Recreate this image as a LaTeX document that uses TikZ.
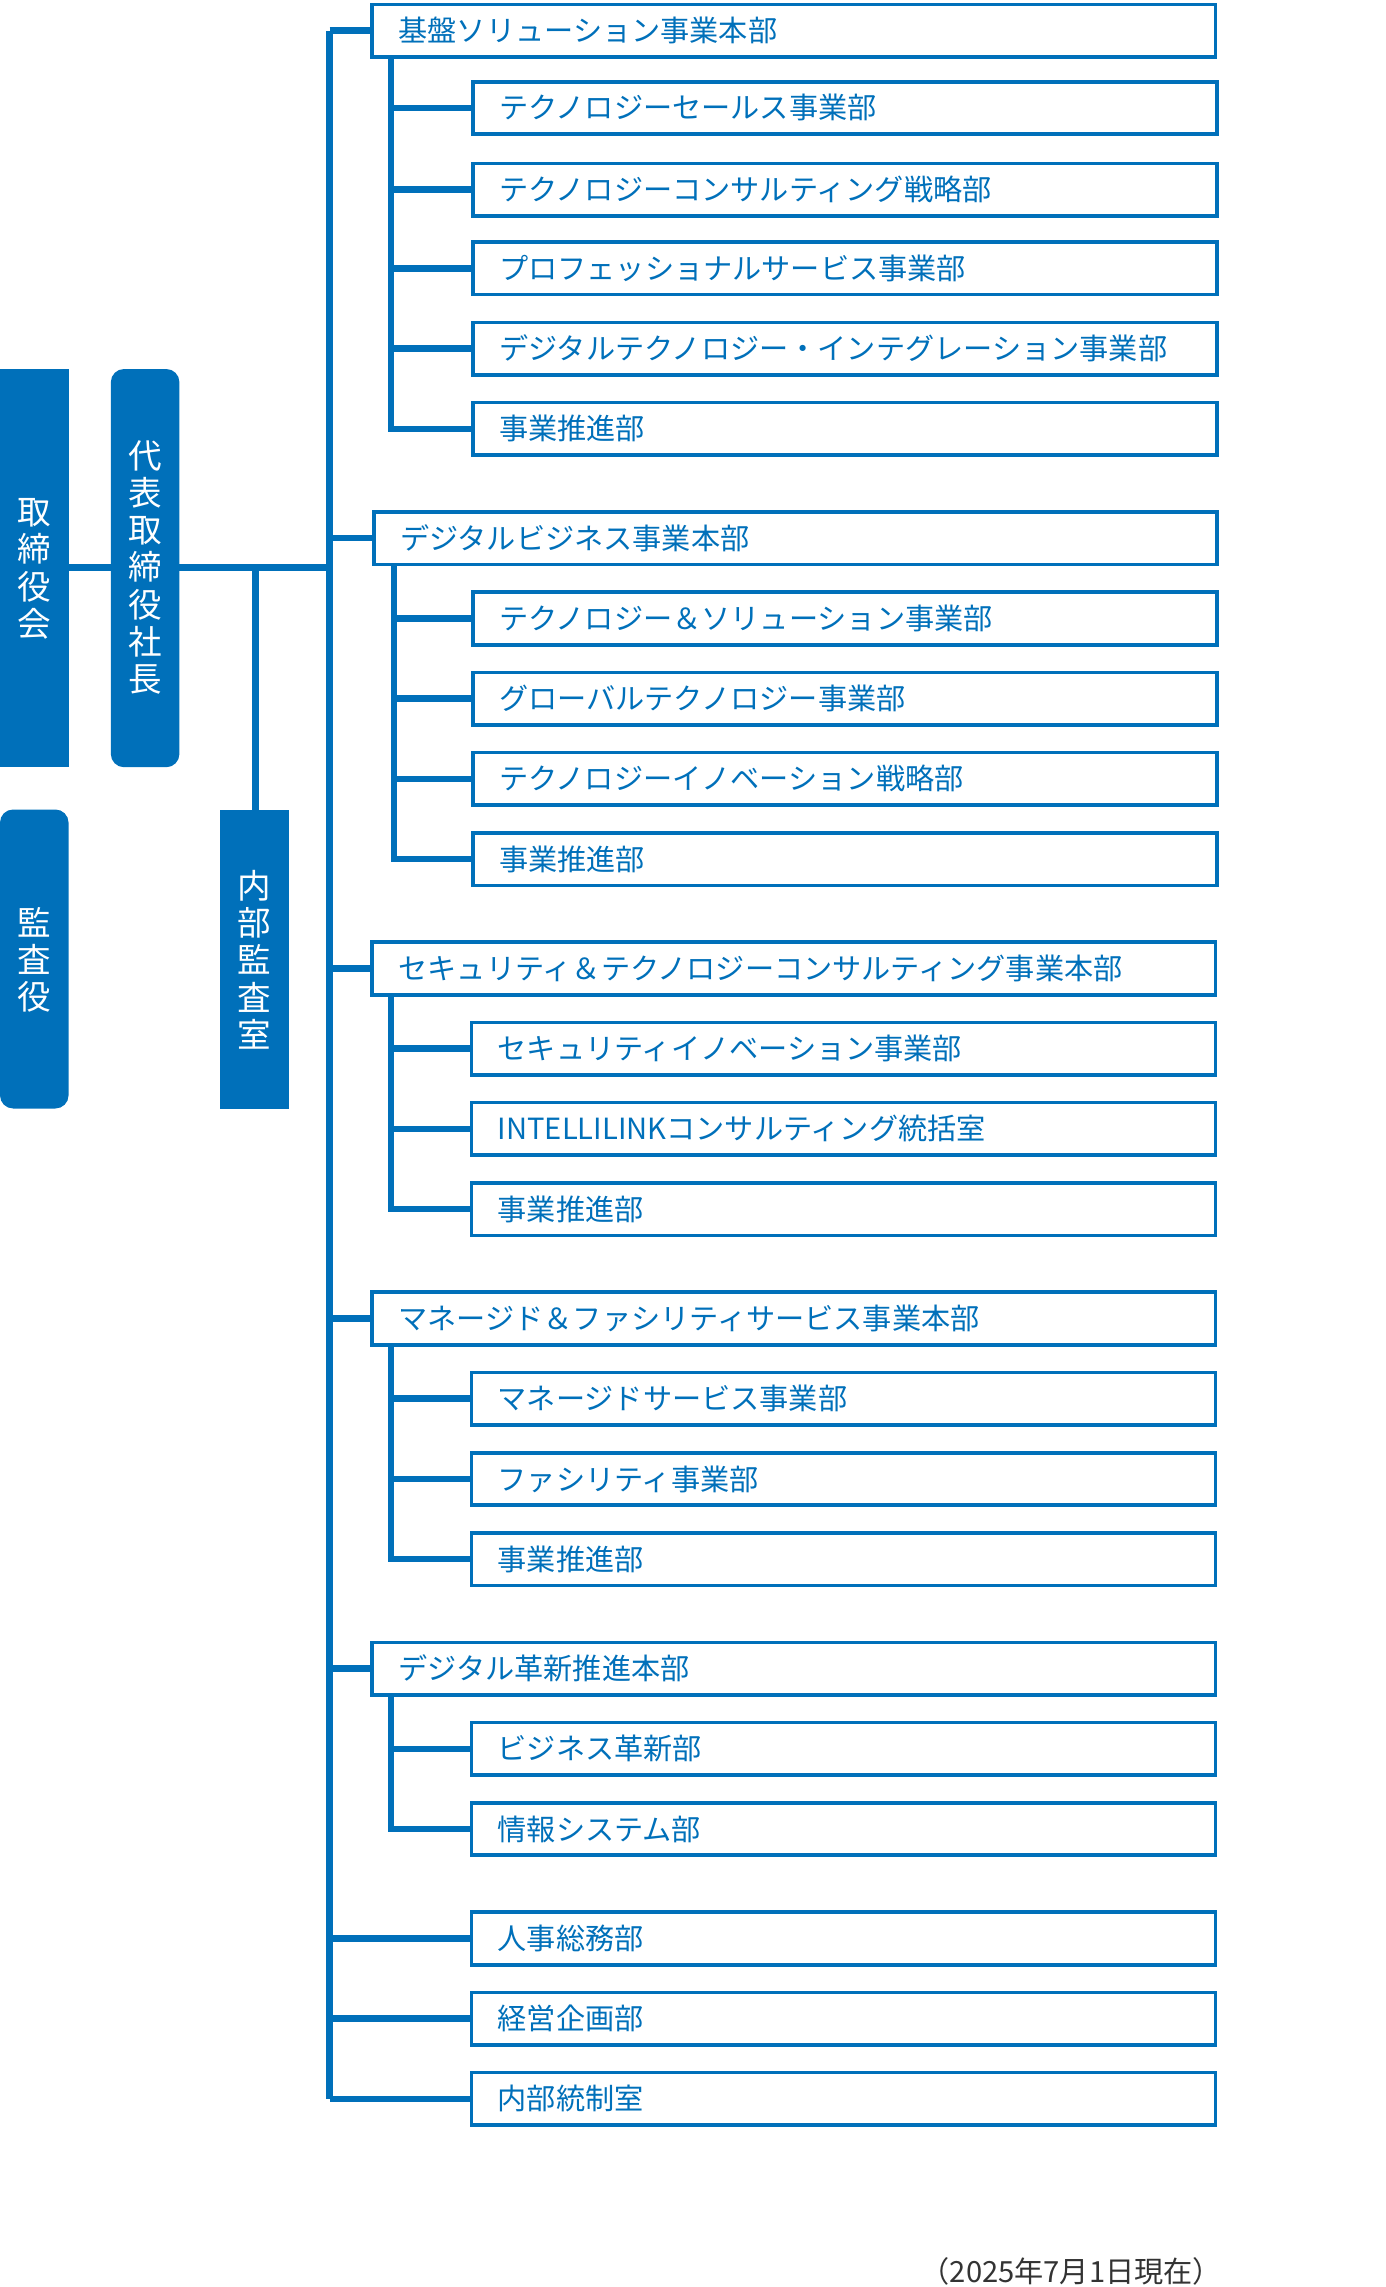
\documentclass[tikz,border=0pt]{standalone}
\usepackage{fontspec}
\setmainfont{Noto Sans CJK JP}
\definecolor{nb}{HTML}{0070BA}
\definecolor{dg}{HTML}{333333}
\begin{document}
\begin{tikzpicture}[x=1pt,y=-1pt,
  hd/.style={draw=nb,line width=2.5pt,anchor=west,minimum height=36pt,text width=542pt,inner xsep=18pt,inner ysep=0pt,text=nb,font=\fontsize{20}{20}\selectfont,fill=white},
  sb/.style={hd,text width=474pt},
  ln/.style={nb,line width=4.5pt}]
\useasboundingbox (0,0) rectangle (950,1568);
% left blocks
\fill[nb] (0,253) rectangle (47,526);
\node[text=white,align=center,font=\fontsize{23}{25.5}\selectfont] (tk) at (23.5,390) {取\\締\\役\\会};
\fill[nb,rounded corners=9pt] (76,253) rectangle (123,526);
\node[text=white,align=center,font=\fontsize{23}{25.5}\selectfont] (sh) at (99.5,389) {代\\表\\取\\締\\役\\社\\長};
\fill[nb,rounded corners=9pt] (0,555) rectangle (47,760);
\node[text=white,align=center,font=\fontsize{23}{25.5}\selectfont] (ks) at (23.5,658) {監\\査\\役};
\fill[nb] (151,555) rectangle (198,760);
\node[text=white,align=center,font=\fontsize{23}{25.5}\selectfont] (na) at (174.5,658) {内\\部\\監\\査\\室};
\coordinate (j1) at (47,389);
\coordinate (j2) at (226,389);
\coordinate (jt) at (175,389);
\coordinate (jb) at (175,555);
\draw[ln] (j1) -- (76,389);
\draw[ln] (123,389) -- (j2);
\draw[ln] (jt) -- (jb);
% trunk
\coordinate (ttop) at (226,21);
\coordinate (tbot) at (226,1439);
\draw[ln] (ttop) -- (tbot);
% headers
\node[hd] (h1) at (254,21) {基盤ソリューション事業本部};
\node[hd] (h2) at (255,369) {デジタルビジネス事業本部};
\node[hd] (h3) at (254,664) {セキュリティ＆テクノロジーコンサルティング事業本部};
\node[hd] (h4) at (254,904) {マネージド＆ファシリティサービス事業本部};
\node[hd] (h5) at (254,1144) {デジタル革新推進本部};
% subs
\node[sb] (a1) at (323,74) {テクノロジーセールス事業部};
\node[sb] (a2) at (323,130) {テクノロジーコンサルティング戦略部};
\node[sb] (a3) at (323,184) {プロフェッショナルサービス事業部};
\node[sb] (a4) at (323,239) {デジタルテクノロジー・インテグレーション事業部};
\node[sb] (a5) at (323,294) {事業推進部};
\node[sb] (b1) at (323,424) {テクノロジー＆ソリューション事業部};
\node[sb] (b2) at (323,479) {グローバルテクノロジー事業部};
\node[sb] (b3) at (323,534) {テクノロジーイノベーション戦略部};
\node[sb] (b4) at (323,589) {事業推進部};
\node[sb] (c1) at (322,719) {セキュリティイノベーション事業部};
\node[sb] (c2) at (322,774) {INTELLILINKコンサルティング統括室};
\node[sb] (c3) at (322,829) {事業推進部};
\node[sb] (d1) at (322,959) {マネージドサービス事業部};
\node[sb] (d2) at (322,1014) {ファシリティ事業部};
\node[sb] (d3) at (322,1069) {事業推進部};
\node[sb] (e1) at (322,1199) {ビジネス革新部};
\node[sb] (e2) at (322,1254) {情報システム部};
\node[sb] (f1) at (322,1329) {人事総務部};
\node[sb] (f2) at (322,1384) {経営企画部};
\node[sb] (f3) at (322,1439) {内部統制室};
% connectors
\foreach \h in {h1,h2,h3,h4,h5,f1,f2,f3}{\draw[ln] (\h.west -| ttop) -- (\h.west);}
\foreach \h/\s/\x in {h1/a5/268,h2/b4/270,h3/c3/268,h4/d3/268,h5/e2/268}{
  \draw[ln] (\h.south -| \x,0) |- (\s.west);}
\foreach \h/\s/\x in {h1/a1/268,h1/a2/268,h1/a3/268,h1/a4/268,h2/b1/270,h2/b2/270,h2/b3/270,h3/c1/268,h3/c2/268,h4/d1/268,h4/d2/268,h5/e1/268}{
  \draw[ln] (\s.west -| \x,0) -- (\s.west);}
\node[text=dg,font=\fontsize{20}{20}\selectfont,anchor=east,inner sep=0pt] (dt) at (838,1557) {（2025年7月1日現在）};
\end{tikzpicture}
\end{document}
